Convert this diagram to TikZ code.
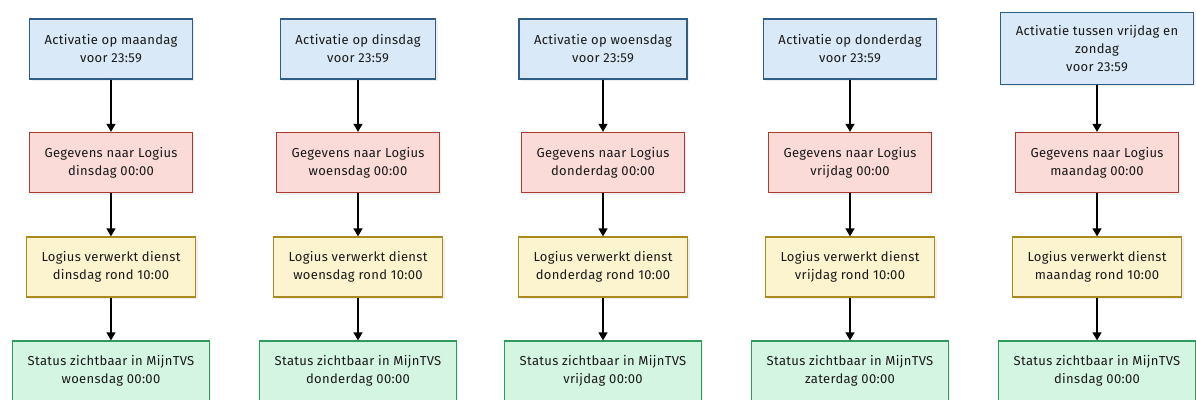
\documentclass[tikz,border=0pt]{standalone}
\usepackage{fontspec}
\setmainfont{Fira Sans}[LetterSpace=2.5]
\usepackage{xcolor}
\usepackage{tikz}
\usetikzlibrary{positioning,calc,arrows.meta,shadows}

\definecolor{actfill}{HTML}{D9E9F7}
\definecolor{actline}{HTML}{2E5E86}
\definecolor{datfill}{HTML}{FADBD8}
\definecolor{datline}{HTML}{A93A30}
\definecolor{prcfill}{HTML}{FCF3CF}
\definecolor{prcline}{HTML}{A88A1E}
\definecolor{stafill}{HTML}{D5F5E3}
\definecolor{staline}{HTML}{2E9A5E}

\begin{document}
\begin{tikzpicture}[x=1pt, y=1pt,
    box/.style={rectangle, draw, line width=1.3pt, align=center, inner xsep=15pt, inner ysep=12.5pt,
        minimum height=60pt, text=black!90, font=\fontsize{13}{18}\selectfont,
        drop shadow={opacity=0.12, shadow xshift=2pt, shadow yshift=-2pt}},
    actbox/.style={box, fill=actfill, draw=actline},
    datbox/.style={box, fill=datfill, draw=datline},
    prcbox/.style={box, fill=prcfill, draw=prcline},
    stabox/.style={box, fill=stafill, draw=staline},
    arr/.style={-{Triangle[width=9pt,length=8pt]}, line width=1.4pt, black}]
\clip (0,0) rectangle (1196,-399);
\fill[white] (0,0) rectangle (1196,-399);

% maandag
\node[actbox] (a1) at (111,-49) {Activatie op maandag\\voor 23:59};
\node[datbox] (d1) at (111,-162.5) {Gegevens naar Logius\\dinsdag 00:00};
\node[prcbox] (p1) at (111,-267) {Logius verwerkt dienst\\dinsdag rond 10:00};
\node[stabox] (s1) at (111,-371) {Status zichtbaar in MijnTVS\\woensdag 00:00};
\draw[arr] (a1) -- (d1);
\draw[arr] (d1) -- (p1);
\draw[arr] (p1) -- (s1);

% dinsdag
\node[actbox] (a2) at (358,-49) {Activatie op dinsdag\\voor 23:59};
\node[datbox] (d2) at (358,-162.5) {Gegevens naar Logius\\woensdag 00:00};
\node[prcbox] (p2) at (358,-267) {Logius verwerkt dienst\\woensdag rond 10:00};
\node[stabox] (s2) at (358,-371) {Status zichtbaar in MijnTVS\\donderdag 00:00};
\draw[arr] (a2) -- (d2);
\draw[arr] (d2) -- (p2);
\draw[arr] (p2) -- (s2);

% woensdag
\node[actbox] (a3) at (603,-49) {Activatie op woensdag\\voor 23:59};
\node[datbox] (d3) at (603,-162.5) {Gegevens naar Logius\\donderdag 00:00};
\node[prcbox] (p3) at (603,-267) {Logius verwerkt dienst\\donderdag rond 10:00};
\node[stabox] (s3) at (603,-371) {Status zichtbaar in MijnTVS\\vrijdag 00:00};
\draw[arr] (a3) -- (d3);
\draw[arr] (d3) -- (p3);
\draw[arr] (p3) -- (s3);

% donderdag
\node[actbox] (a4) at (850,-49) {Activatie op donderdag\\voor 23:59};
\node[datbox] (d4) at (850,-162.5) {Gegevens naar Logius\\vrijdag 00:00};
\node[prcbox] (p4) at (850,-267) {Logius verwerkt dienst\\vrijdag rond 10:00};
\node[stabox] (s4) at (850,-371) {Status zichtbaar in MijnTVS\\zaterdag 00:00};
\draw[arr] (a4) -- (d4);
\draw[arr] (d4) -- (p4);
\draw[arr] (p4) -- (s4);

% weekend
\node[actbox] (a5) at (1097,-48.5) {Activatie tussen vrijdag en\\zondag\\voor 23:59};
\node[datbox] (d5) at (1097,-162.5) {Gegevens naar Logius\\maandag 00:00};
\node[prcbox] (p5) at (1097,-267) {Logius verwerkt dienst\\maandag rond 10:00};
\node[stabox] (s5) at (1097,-371) {Status zichtbaar in MijnTVS\\dinsdag 00:00};
\draw[arr] (a5) -- (d5);
\draw[arr] (d5) -- (p5);
\draw[arr] (p5) -- (s5);
\end{tikzpicture}
\end{document}
